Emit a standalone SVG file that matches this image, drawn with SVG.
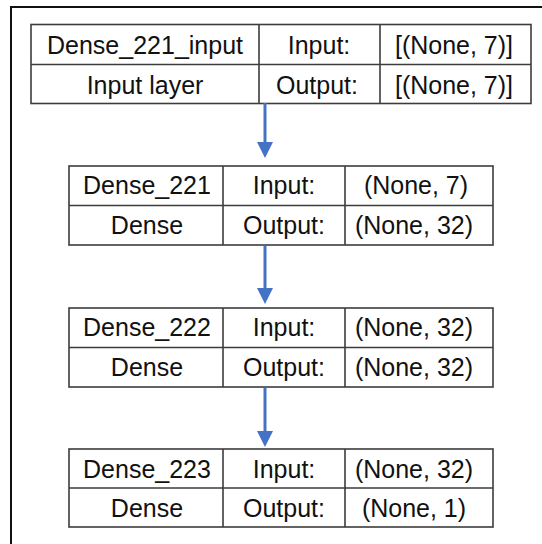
<svg xmlns="http://www.w3.org/2000/svg" width="542" height="544" viewBox="0 0 542 544">
  <style>
    .cell { fill: #ffffff; stroke: #3c3c3c; stroke-width: 1.6; }
    .grid { stroke: #3c3c3c; stroke-width: 1.6; fill: none; }
    .t { font-family: "Liberation Sans", Arial, sans-serif; font-size: 25px; fill: #111111; text-anchor: middle; }
    .flow { stroke: #4472c4; stroke-width: 3; fill: none; }
  </style>
  <defs>
    <marker id="head" markerUnits="userSpaceOnUse" markerWidth="16" markerHeight="16" refX="0" refY="8" orient="auto">
      <path d="M0,0 L16,8 L0,16 Z" fill="#4472c4"/>
    </marker>
  </defs>

  <rect width="542" height="544" fill="#ffffff"/>
  <!-- outer frame (runs off the right and bottom edges) -->
  <path d="M11,546 V7 H544" fill="none" stroke="#111111" stroke-width="2"/>

  <!-- input layer -->
  <g id="dense_221_input">
    <rect class="cell" x="31" y="24.5" width="500" height="79"/>
    <path class="grid" d="M31,64.5 H531 M259,24.5 V103.5 M380,24.5 V103.5"/>
    <text class="t" x="145" y="54">Dense_221_input</text>
    <text class="t" x="319" y="54">Input:</text>
    <text class="t" x="454" y="54">[(None, 7)]</text>
    <text class="t" x="145" y="93.5">Input layer</text>
    <text class="t" x="317" y="93.5">Output:</text>
    <text class="t" x="454" y="93.5">[(None, 7)]</text>
  </g>

  <g id="dense_221">
    <rect class="cell" x="69" y="166" width="424" height="79"/>
    <path class="grid" d="M69,205.5 H493 M223,166 V245 M345,166 V245"/>
    <text class="t" x="147" y="194">Dense_221</text>
    <text class="t" x="284" y="194">Input:</text>
    <text class="t" x="416" y="194">(None, 7)</text>
    <text class="t" x="147" y="233.5">Dense</text>
    <text class="t" x="284" y="233.5">Output:</text>
    <text class="t" x="414" y="233.5">(None, 32)</text>
  </g>

  <g id="dense_222">
    <rect class="cell" x="69" y="308" width="424" height="79"/>
    <path class="grid" d="M69,347.5 H493 M223,308 V387 M345,308 V387"/>
    <text class="t" x="147" y="336">Dense_222</text>
    <text class="t" x="284" y="336">Input:</text>
    <text class="t" x="414" y="336">(None, 32)</text>
    <text class="t" x="147" y="375.5">Dense</text>
    <text class="t" x="284" y="375.5">Output:</text>
    <text class="t" x="414" y="375.5">(None, 32)</text>
  </g>

  <g id="dense_223">
    <rect class="cell" x="69" y="449" width="424" height="78"/>
    <path class="grid" d="M69,488 H493 M223,449 V527 M345,449 V527"/>
    <text class="t" x="147" y="477.5">Dense_223</text>
    <text class="t" x="284" y="477.5">Input:</text>
    <text class="t" x="414" y="477.5">(None, 32)</text>
    <text class="t" x="147" y="516.5">Dense</text>
    <text class="t" x="284" y="516.5">Output:</text>
    <text class="t" x="414" y="516.5">(None, 1)</text>
  </g>

  <g id="connectors">
    <line class="flow" x1="265" y1="103" x2="265" y2="142" marker-end="url(#head)"/>
    <line class="flow" x1="265" y1="246" x2="265" y2="288" marker-end="url(#head)"/>
    <line class="flow" x1="265" y1="388" x2="265" y2="431" marker-end="url(#head)"/>
  </g>
</svg>
